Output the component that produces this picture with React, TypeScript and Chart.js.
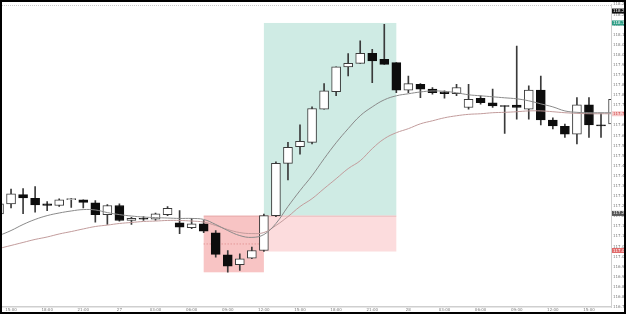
import React, { useEffect, useRef } from "react";
import { Chart, registerables } from "chart.js";
Chart.register(...registerables);

// Hourly candles (index 0 = 14:00 on the 26th)
const opens = [117.212,117.261,117.307,117.289,117.261,117.253,117.282,117.281,117.266,117.208,117.253,117.179,117.190,117.185,117.208,117.167,117.143,117.162,117.118,117.009,116.960,116.992,117.030,117.203,117.462,117.545,117.566,117.731,117.818,117.940,117.958,118.008,117.978,117.961,117.825,117.854,117.830,117.816,117.808,117.739,117.785,117.762,117.747,117.751,117.731,117.825,117.677,117.645,117.607,117.752,117.653,117.657];
const highs = [117.273,117.335,117.337,117.347,117.273,117.286,117.289,117.281,117.278,117.258,117.261,117.195,117.198,117.215,117.248,117.228,117.189,117.179,117.129,117.030,117.014,117.047,117.211,117.470,117.566,117.653,117.742,117.857,117.940,118.006,118.069,118.027,118.151,117.961,117.895,117.857,117.838,117.821,117.854,117.854,117.797,117.830,117.747,118.044,117.846,117.895,117.688,117.657,117.788,117.788,117.709,117.797];
const lows = [117.203,117.241,117.213,117.220,117.228,117.248,117.244,117.241,117.170,117.159,117.175,117.159,117.179,117.179,117.203,117.113,117.138,117.119,116.997,116.923,116.931,116.989,117.025,117.198,117.380,117.508,117.558,117.731,117.797,117.895,117.958,117.862,117.953,117.813,117.813,117.788,117.805,117.785,117.797,117.731,117.756,117.739,117.610,117.681,117.681,117.653,117.633,117.590,117.558,117.590,117.590,117.648];
const closes = [117.261,117.311,117.291,117.256,117.254,117.281,117.286,117.268,117.208,117.253,117.179,117.190,117.185,117.212,117.239,117.146,117.162,117.126,117.011,116.953,116.989,117.030,117.203,117.462,117.541,117.571,117.734,117.821,117.940,117.958,118.008,117.970,117.953,117.825,117.857,117.830,117.813,117.808,117.838,117.780,117.763,117.747,117.744,117.739,117.825,117.677,117.648,117.607,117.752,117.652,117.648,117.780];

const fastMA = [117.104,117.129,117.159,117.184,117.203,117.216,117.226,117.233,117.231,117.218,117.208,117.201,117.196,117.193,117.191,117.189,117.189,117.184,117.159,117.129,117.104,117.095,117.109,117.164,117.248,117.327,117.401,117.485,117.564,117.634,117.698,117.742,117.777,117.797,117.807,117.816,117.821,117.819,117.812,117.802,117.797,117.792,117.787,117.782,117.772,117.757,117.742,117.722,117.715,117.713,117.713,117.713];
const slowMA = [117.040,117.055,117.070,117.085,117.097,117.112,117.124,117.137,117.149,117.156,117.164,117.169,117.174,117.176,117.179,117.179,117.176,117.171,117.154,117.134,117.119,117.114,117.119,117.154,117.198,117.248,117.287,117.337,117.386,117.436,117.475,117.535,117.584,117.614,117.634,117.658,117.673,117.688,117.698,117.705,117.708,117.713,117.715,117.718,117.722,117.722,117.718,117.713,117.710,117.708,117.708,117.708];

// Time axis labels (every 3 candles, starting at index 1)
const timeLabelIndex = [1,4,7,10,13,16,19,22,25,28,31,34,37,40,43,46,49];
const timeLabels = ["15:00","18:00","21:00","27","03:00","06:00","09:00","12:00","15:00","18:00","21:00","28","03:00","06:00","09:00","12:00","15:00"];

// Price ticks
const yMin = 116.75;
const yMax = 118.25;
const yStep = 0.05;

// Position boxes: [startIndex, endIndex, lowPrice, highPrice]
const takeProfitBox = [22, 33, 117.203, 118.158];
const stopLossBox = [22, 33, 117.025, 117.203];
const preEntryBox = [17, 22, 116.922, 117.203];
const dottedLevel = 117.065;

// Right axis price tags: [price, background, text colour]
const tagPrices = [118.217, 118.158, 117.708, 117.214, 117.030];
const tagBg = ["#111111", "#2e9e86", "#f6c9c9", "#555555", "#e06a6a"];
const tagFg = ["#ffffff", "#ffffff", "#d04545", "#ffffff", "#ffffff"];

export default function App() {
  const ref = useRef<HTMLCanvasElement>(null);
  useEffect(() => {
    const canvas = ref.current!;
    const idx = opens.map((_, i) => i);
    const bull = idx.map((i) => closes[i] >= opens[i]);

    const boxPlugin = {
      id: "boxes",
      beforeDraw(chart: any) {
        const c = chart.ctx;
        c.save();
        c.fillStyle = "#ffffff";
        c.fillRect(0, 0, chart.width, chart.height);
        c.restore();
      },
      beforeDatasetsDraw(chart: any) {
        const { ctx: c, chartArea: a, scales } = chart;
        const x = scales.x, y = scales.y;
        c.save();
        c.beginPath();
        c.rect(a.left, a.top, a.right - a.left, a.bottom - a.top);
        c.clip();
        const fill = (b: number[], col: string) => {
          const x0 = x.getPixelForValue(b[0]);
          const x1 = x.getPixelForValue(b[1]);
          const y0 = y.getPixelForValue(b[3]);
          const y1 = y.getPixelForValue(b[2]);
          c.fillStyle = col;
          c.fillRect(x0, y0, x1 - x0, y1 - y0);
        };
        fill(takeProfitBox, "#cfebe4");
        fill(stopLossBox, "#fcdcdd");
        fill(preEntryBox, "#f8c4c4");
        // subtle edges
        c.strokeStyle = "rgba(200,120,120,0.35)";
        c.lineWidth = 1;
        const ey = y.getPixelForValue(takeProfitBox[2]);
        c.beginPath();
        c.moveTo(x.getPixelForValue(preEntryBox[0]), ey + 0.5);
        c.lineTo(x.getPixelForValue(stopLossBox[1]), ey + 0.5);
        c.stroke();
        // dotted level
        const dy = y.getPixelForValue(dottedLevel);
        c.setLineDash([1, 2]);
        c.strokeStyle = "rgba(200,90,90,0.6)";
        c.beginPath();
        c.moveTo(x.getPixelForValue(preEntryBox[0]), dy + 0.5);
        c.lineTo(x.getPixelForValue(preEntryBox[1]), dy + 0.5);
        c.stroke();
        c.restore();
      },
      afterDraw(chart: any) {
        const { ctx: c, chartArea: a, scales } = chart;
        const y = scales.y;
        c.save();
        // faint top line
        c.setLineDash([1, 1]);
        c.strokeStyle = "#cccccc";
        c.lineWidth = 1;
        c.beginPath();
        c.moveTo(2, 5.5);
        c.lineTo(a.right, 5.5);
        c.stroke();
        c.setLineDash([]);
        // price tags
        c.font = "4px 'DejaVu Sans'";
        c.textBaseline = "middle";
        tagPrices.forEach((p, i) => {
          const py = y.getPixelForValue(p);
          c.fillStyle = tagBg[i];
          c.fillRect(a.right + 1, py - 2.5, 13, 5);
          c.fillStyle = tagFg[i];
          c.fillText(p.toFixed(3), a.right + 2, py);
        });
        // frame
        c.strokeStyle = "#000000";
        c.lineWidth = 2;
        c.strokeRect(1, 1, chart.width - 2, chart.height - 2);
        c.restore();
      },
    };

    const chart = new Chart(canvas, {
      type: "bar",
      data: {
        datasets: [
          {
            type: "line",
            data: idx.map((i) => ({ x: i, y: fastMA[i] })),
            borderColor: "#8a8a8a",
            borderWidth: 1,
            pointRadius: 0,
            tension: 0.4,
            order: 0,
            clip: 0,
          } as any,
          {
            type: "line",
            data: idx.map((i) => ({ x: i, y: slowMA[i] })),
            borderColor: "#c29c9c",
            borderWidth: 1,
            pointRadius: 0,
            tension: 0.4,
            order: 0,
            clip: 0,
          } as any,
          {
            type: "bar",
            data: idx.map((i) => ({ x: i, y: [opens[i], closes[i]] })),
            backgroundColor: bull.map((b) => (b ? "#ffffff" : "#0d0d0d")),
            borderColor: bull.map((b) => (b ? "#3a3a3a" : "#0d0d0d")),
            borderWidth: 1,
            borderSkipped: false,
            barThickness: 9,
            minBarLength: 1,
            grouped: false,
            order: 1,
            clip: 0,
          } as any,
          {
            type: "bar",
            data: idx.map((i) => ({ x: i, y: [lows[i], highs[i]] })),
            backgroundColor: "#3a3a3a",
            borderWidth: 0,
            barThickness: 1,
            grouped: false,
            order: 2,
            clip: 0,
          } as any,
        ],
      },
      options: {
        responsive: false,
        animation: false,
        devicePixelRatio: 1,
        layout: { padding: { left: 2, right: 2, top: 3, bottom: 2 } },
        plugins: { legend: { display: false }, tooltip: { enabled: false } },
        scales: {
          x: {
            type: "linear",
            min: 0.249,
            max: 50.83,
            offset: false,
            grid: { display: false, drawTicks: false },
            border: { display: true, color: "#cfcfcf", width: 1.5 },
            afterFit: (s: any) => {
              s.height = 5;
            },
            afterBuildTicks: (s: any) => {
              s.ticks = timeLabelIndex.map((v) => ({ value: v }));
            },
            ticks: {
              autoSkip: false,
              maxRotation: 0,
              padding: 1,
              color: "#7a7a7a",
              font: { size: 4, family: "DejaVu Sans" },
              callback: (_v: any, i: number) => timeLabels[i],
            },
          },
          y: {
            type: "linear",
            position: "right",
            min: yMin,
            max: yMax,
            grid: { display: false, drawTicks: false },
            border: { display: true, color: "#cfcfcf", width: 1 },
            afterFit: (s: any) => {
              s.width = 13;
            },
            afterBuildTicks: (s: any) => {
              const t: any[] = [];
              const n = Math.round((yMax - yMin) / yStep);
              for (let k = 0; k <= n; k++) t.push({ value: yMin + k * yStep });
              s.ticks = t;
            },
            ticks: {
              autoSkip: false,
              padding: 2,
              color: "#7a7a7a",
              font: { size: 4, family: "DejaVu Sans" },
              callback: (v: any) => Number(v).toFixed(3),
            },
          },
        },
      },
      plugins: [boxPlugin],
    } as any);
    return () => chart.destroy();
  }, []);
  return (
    <div style={{ position: "absolute", left: 0, top: 0, width: 626, height: 314 }}>
      <canvas ref={ref} width={626} height={314} />
    </div>
  );
}
